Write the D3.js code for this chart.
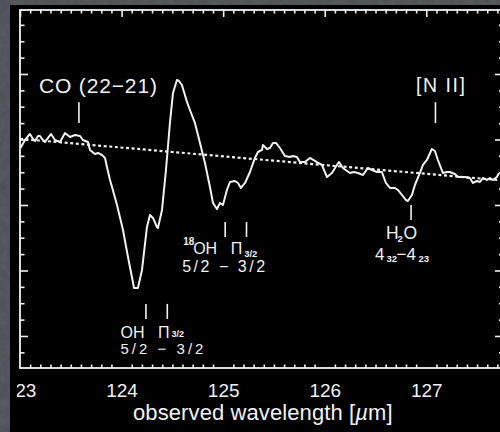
<!DOCTYPE html>
<html>
<head>
<meta charset="utf-8">
<script src="https://cdn.jsdelivr.net/npm/d3@7"></script>
<style>
  html, body { margin: 0; padding: 0; background: #4d5058; overflow: hidden; }
  svg { display: block; }
</style>
</head>
<body>
<svg id="chart" width="500" height="432"></svg>
<script>
// Observed spectrum: wavelength (µm) and flux (arbitrary units)
const wavelength = [
  123.005, 123.049, 123.098, 123.128, 123.148, 123.177, 123.197, 123.217, 123.246, 123.276,
  123.305, 123.344, 123.394, 123.443, 123.492, 123.541, 123.591, 123.620, 123.669, 123.689,
  123.738, 123.768, 123.807, 123.837, 123.856, 123.886, 123.906, 123.955, 124.014, 124.063,
  124.102, 124.122, 124.161, 124.201, 124.250, 124.280, 124.309, 124.348, 124.358, 124.398,
  124.437, 124.476, 124.506, 124.545, 124.565, 124.594, 124.644, 124.673, 124.722, 124.772,
  124.821, 124.870, 124.900, 124.939, 124.969, 124.998, 125.037, 125.067, 125.116, 125.146,
  125.175, 125.215, 125.264, 125.313, 125.343, 125.382, 125.392, 125.431, 125.461, 125.490,
  125.520, 125.559, 125.608, 125.657, 125.687, 125.726, 125.756, 125.805, 125.854, 125.923,
  125.972, 126.022, 126.071, 126.120, 126.140, 126.179, 126.248, 126.287, 126.327, 126.376,
  126.425, 126.465, 126.514, 126.563, 126.602, 126.642, 126.691, 126.720, 126.760, 126.799,
  126.819, 126.858, 126.888, 126.937, 126.967, 127.006, 127.055, 127.085, 127.114, 127.163,
  127.203, 127.232, 127.281, 127.311, 127.350, 127.380, 127.429, 127.459, 127.498, 127.528,
  127.557, 127.596, 127.626, 127.656, 127.695, 127.715
];
const flux = [
  2.870, 2.992, 3.084, 3.008, 2.977, 3.053, 3.053, 3.008, 2.962, 3.023,
  3.084, 2.992, 2.962, 3.099, 3.038, 3.069, 3.053, 2.992, 2.962, 2.840,
  2.779, 2.794, 2.763, 2.718, 2.580, 2.382, 2.275, 2.000, 1.618, 1.206,
  0.901, 0.733, 0.733, 1.008, 1.664, 1.847, 1.802, 1.664, 1.649, 1.924,
  2.534, 3.252, 3.710, 3.908, 3.893, 3.832, 3.573, 3.450, 3.252, 2.947,
  2.641, 2.275, 2.031, 1.939, 2.031, 2.000, 2.229, 2.351, 2.366, 2.336,
  2.260, 2.336, 2.504, 2.718, 2.809, 2.840, 2.916, 2.855, 2.870, 2.947,
  2.947, 2.870, 2.748, 2.733, 2.748, 2.733, 2.656, 2.656, 2.718, 2.656,
  2.611, 2.427, 2.489, 2.611, 2.656, 2.565, 2.489, 2.504, 2.489, 2.458,
  2.565, 2.534, 2.504, 2.504, 2.336, 2.260, 2.260, 2.229, 2.153, 2.076,
  2.061, 2.153, 2.305, 2.489, 2.611, 2.687, 2.855, 2.824, 2.687, 2.489,
  2.504, 2.504, 2.473, 2.427, 2.427, 2.427, 2.412, 2.336, 2.366, 2.351,
  2.412, 2.382, 2.412, 2.382, 2.427, 2.489
];

// Fitted continuum (straight baseline)
const continuumWave = [123.0, 127.715];
const continuumFlux = [3.01, 2.38];

// Axis ticks
const xTickValues = [123, 124, 125, 126, 127];
const xTickLabels = ["123", "124", "125", "126", "127"];
const yMajorTicks = [0, 1, 2, 3, 4];
const axisTitle = "observed wavelength [";

// Line identification markers: wavelength and vertical extent of the marker
const markerWaves  = [123.58, 124.24, 124.45, 125.02, 125.23, 126.85, 127.09];
const markerTop    = [3.57, 0.49, 0.49, 1.74, 1.74, 2.00, 3.57];
const markerBottom = [3.25, 0.26, 0.26, 1.51, 1.51, 1.77, 3.25];

const W = 500, H = 432;
const plot = { left: 20, top: 10, right: 503, bottom: 368 };
const ink = "#f2f2f2";
const fontFamily = "'Liberation Sans', Arial, Helvetica, sans-serif";

const svg = d3.select("#chart");
const defs = svg.append("defs");

// slate backdrop with a faint grain
const grain = defs.append("filter").attr("id", "grain")
  .attr("x", 0).attr("y", 0).attr("width", 1).attr("height", 1);
grain.append("feTurbulence").attr("type", "fractalNoise")
  .attr("baseFrequency", 0.12).attr("numOctaves", 3).attr("seed", 4).attr("result", "n");
grain.append("feColorMatrix").attr("in", "n").attr("type", "matrix")
  .attr("values", "0 0 0 0 0.36  0 0 0 0 0.37  0 0 0 0 0.40  0 0 0 0.5 0")
  .attr("result", "c");
grain.append("feComposite").attr("in", "c").attr("in2", "SourceGraphic").attr("operator", "in");

svg.append("rect").attr("width", W).attr("height", H).attr("fill", "#4b4e56");
svg.append("rect").attr("width", W).attr("height", H).attr("fill", "#fff")
  .attr("filter", "url(#grain)").attr("opacity", 0.35);
svg.append("rect").attr("x", 10).attr("y", 5).attr("width", W - 10).attr("height", H - 5).attr("fill", "#000");

const x = d3.scaleLinear().domain([123, 127.755]).range([plot.left, plot.right]);
const y = d3.scaleLinear().domain([-0.489, 4.977]).range([plot.bottom, plot.top]);

const xMinor = d3.range(1230, 1278).map(d => d / 10).filter(d => Math.abs(d - Math.round(d)) > 1e-6);
const yMinor = d3.range(-0.25, 5, 0.25).filter(d => Math.abs(d - Math.round(d)) > 1e-6 && d > -0.489 && d < 4.977);

defs.append("clipPath").attr("id", "labelClip")
  .append("rect").attr("x", 17).attr("y", 0).attr("width", W).attr("height", H);

function styleAxis(g) {
  g.select(".domain").remove();
  g.selectAll(".tick line").attr("stroke", ink).attr("stroke-width", 1.6);
  g.selectAll(".tick text").attr("fill", ink).attr("font-family", fontFamily).attr("font-size", 19);
}

// bottom axis: ticks point into the plot, labels below
svg.append("g").attr("transform", `translate(0,${plot.bottom})`)
  .call(d3.axisBottom(x).tickValues(xMinor).tickSizeInner(-3.5).tickSizeOuter(0).tickFormat(""))
  .call(styleAxis);
svg.append("g").attr("transform", `translate(0,${plot.bottom})`).attr("clip-path", "url(#labelClip)")
  .call(d3.axisBottom(x).tickValues(xTickValues).tickSizeInner(-6.5).tickSizeOuter(0)
    .tickPadding(15.5).tickFormat((d, i) => xTickLabels[i]))
  .call(styleAxis);

// top axis
svg.append("g").attr("transform", `translate(0,${plot.top})`)
  .call(d3.axisTop(x).tickValues(xMinor).tickSizeInner(-3.5).tickSizeOuter(0).tickFormat(""))
  .call(styleAxis);
svg.append("g").attr("transform", `translate(0,${plot.top})`)
  .call(d3.axisTop(x).tickValues(xTickValues).tickSizeInner(-7).tickSizeOuter(0).tickFormat(""))
  .call(styleAxis);

// left axis
svg.append("g").attr("transform", `translate(${plot.left},0)`)
  .call(d3.axisLeft(y).tickValues(yMinor).tickSizeInner(-4.5).tickSizeOuter(0).tickFormat(""))
  .call(styleAxis);
svg.append("g").attr("transform", `translate(${plot.left},0)`)
  .call(d3.axisLeft(y).tickValues(yMajorTicks).tickSizeInner(-8).tickSizeOuter(0).tickFormat(""))
  .call(styleAxis);

// right axis
svg.append("g").attr("transform", `translate(${plot.right},0)`)
  .call(d3.axisRight(y).tickValues(yMinor).tickSizeInner(-4).tickSizeOuter(0).tickFormat(""))
  .call(styleAxis);
svg.append("g").attr("transform", `translate(${plot.right},0)`)
  .call(d3.axisRight(y).tickValues(yMajorTicks).tickSizeInner(-8).tickSizeOuter(0).tickFormat(""))
  .call(styleAxis);

// frame
svg.append("rect")
  .attr("x", plot.left).attr("y", plot.top)
  .attr("width", plot.right - plot.left).attr("height", plot.bottom - plot.top)
  .attr("fill", "none").attr("stroke", ink).attr("stroke-width", 1.8);

// axis title
const title = svg.append("text")
  .attr("x", 133).attr("y", 420)
  .attr("fill", ink).attr("font-family", fontFamily).attr("font-size", 22)
  .attr("letter-spacing", 0.1);
title.append("tspan").text(axisTitle);
title.append("tspan").attr("font-style", "italic").text("\u00b5");
title.append("tspan").text("m]");

// continuum
const line = d3.line().x(d => x(d[0])).y(d => y(d[1]));
svg.append("path")
  .datum(continuumWave.map((w, i) => [w, continuumFlux[i]]))
  .attr("d", line)
  .attr("fill", "none").attr("stroke", ink).attr("stroke-width", 2.2)
  .attr("stroke-dasharray", "3,2.6");

// spectrum
svg.append("path")
  .datum(wavelength.map((w, i) => [w, flux[i]]))
  .attr("d", line)
  .attr("fill", "none").attr("stroke", ink).attr("stroke-width", 2)
  .attr("stroke-linejoin", "round");

// identification markers
svg.append("g").selectAll("line").data(markerWaves).join("line")
  .attr("x1", d => x(d)).attr("x2", d => x(d))
  .attr("y1", (d, i) => y(markerTop[i])).attr("y2", (d, i) => y(markerBottom[i]))
  .attr("stroke", ink).attr("stroke-width", 1.6);

function label(px, py, str, size, extra = {}) {
  const t = svg.append("text")
    .attr("x", px).attr("y", py)
    .attr("fill", ink).attr("font-family", fontFamily).attr("font-size", size)
    .text(str);
  Object.entries(extra).forEach(([k, v]) => t.attr(k, v));
  return t;
}

// CO (22-21)
{
  const ax = x(markerWaves[0]), ay = y(markerTop[0]);
  label(ax - 40, ay - 9, "CO (22\u221221)", 21, { textLength: 118, lengthAdjust: "spacing" });
}
// [N II]
{
  const ax = x(markerWaves[6]), ay = y(markerTop[6]);
  label(ax - 19.5, ay - 10, "[N II]", 19.5, { textLength: 49, lengthAdjust: "spacing" });
}
// OH 2Pi3/2 5/2-3/2
{
  const ax = x(markerWaves[1]), ay = y(markerBottom[1]);
  label(ax - 25.5, ay + 19, "OH", 16);
  label(ax + 12, ay + 19, "\u03a0", 16);
  label(ax + 25.5, ay + 18.5, "3/2", 9, { "font-weight": "bold" });
  label(ax - 25.5, ay + 35.5, "5/2 \u2212 3/2", 15, { textLength: 83, lengthAdjust: "spacing" });
}
// 18OH 2Pi3/2 5/2-3/2
{
  const ax = x(markerWaves[3]), ay = y(markerBottom[3]);
  label(ax - 42, ay + 8, "18", 10, { "font-weight": "bold" });
  label(ax - 32, ay + 17, "OH", 16);
  label(ax + 5.5, ay + 17, "\u03a0", 16);
  label(ax + 19, ay + 20, "3/2", 9.5, { "font-weight": "bold" });
  label(ax - 43, ay + 35, "5/2 \u2212 3/2", 16, { textLength: 83, lengthAdjust: "spacing" });
}
// H2O 4_32 - 4_23
{
  const ax = x(markerWaves[5]), ay = y(markerBottom[5]);
  label(ax - 25, ay + 19, "H", 17.5);
  label(ax - 13.5, ay + 21.5, "2", 9.5, { "font-weight": "bold" });
  label(ax - 7.5, ay + 19, "O", 17.5);
  label(ax - 36, ay + 40, "4", 17);
  label(ax - 24.5, ay + 41.5, "32", 9.5, { "font-weight": "bold" });
  label(ax - 14.5, ay + 40, "\u2212", 17);
  label(ax - 4.5, ay + 40, "4", 17);
  label(ax + 7.5, ay + 41.5, "23", 9.5, { "font-weight": "bold" });
}
</script>
</body>
</html>
